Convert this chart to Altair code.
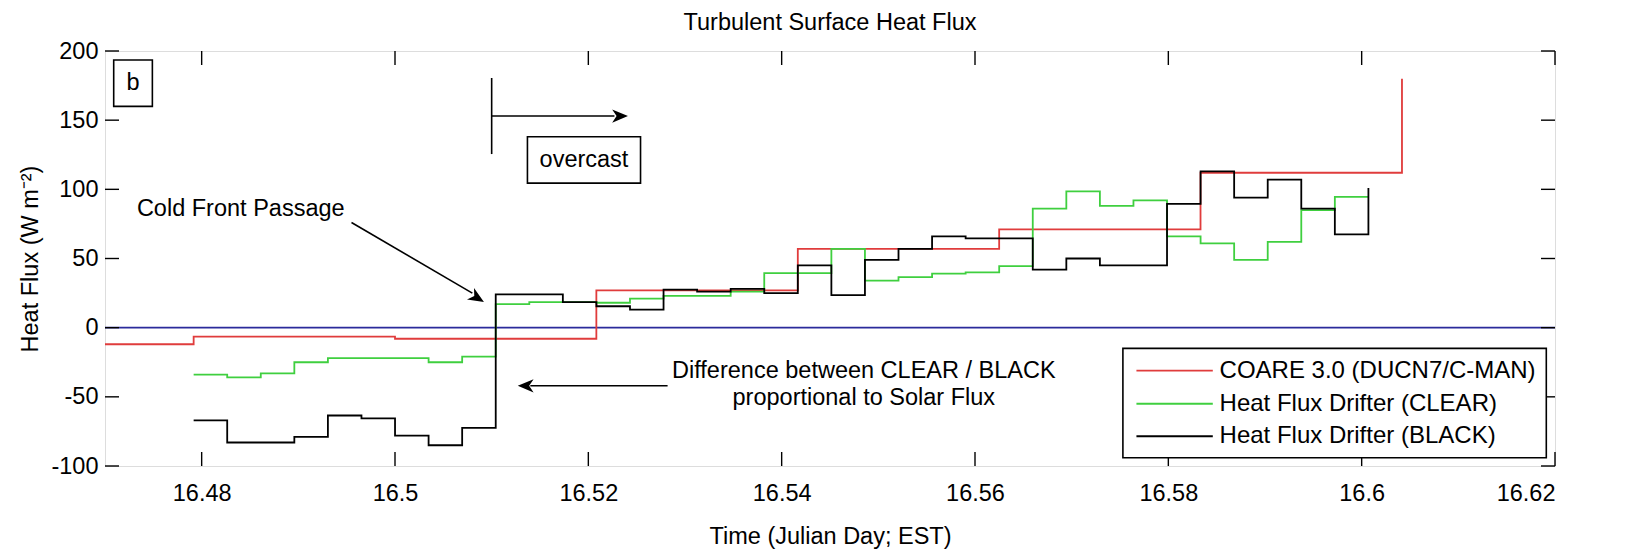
import altair as alt
import pandas as pd

# ---------------- data ----------------
X_DOMAIN = [16.47, 16.62]
Y_DOMAIN = [-100, 200]
x_ticks = [16.48, 16.5, 16.52, 16.54, 16.56, 16.58, 16.6, 16.62]
y_ticks = [-100, -50, 0, 50, 100, 150, 200]

series_names = ["COARE 3.0 (DUCN7/C-MAN)", "Heat Flux Drifter (CLEAR)", "Heat Flux Drifter (BLACK)"]
series_colors = ["#e03c3c", "#3fcf3f", "#000000"]

# COARE 3.0 half-hourly values (stairs)
coare_time = [16.47, 16.47917, 16.5, 16.52083, 16.54167, 16.5625, 16.58333, 16.60417]
coare_flux = [-12, -6.5, -8, 27, 57, 71, 112, 180]

# Drifter 5-minute values (stairs), start 16.47917 (11:30 EST)
drifter_start = 16.47917
drifter_step = 1.0 / 288.0
clear_flux = [-34, -36, -33, -25, -22, -22, -22, -25, -21,
              17, 18.5, 18.5, 18, 21, 23, 23, 26, 39.5, 39.5, 57,
              34, 36.5, 39, 40, 44.5, 86, 98.5, 88, 92, 66, 61, 49,
              62, 85, 94.5, 94.5]
black_flux = [-67, -83, -83, -79, -63.5, -65.5, -78, -85, -72.5,
              24, 24, 18.5, 15.5, 13, 27.5, 26, 28, 25, 45, 23.5,
              49, 57, 66, 64.5, 64.5, 42, 50, 45, 45, 89.5, 113, 94,
              107, 86, 67.5, 101]
drifter_time = [drifter_start + k * drifter_step for k in range(len(black_flux))]

# annotation positions (data units)
ann_text_x = [16.4729, 16.51955, 16.4733]
ann_text_y = [177, 121, 85.5]
ann_text = ["b", "overcast", "Cold Front Passage"]
ann_text_align = ["center", "center", "left"]

diff_text_x = [16.5485, 16.5485]
diff_text_y = [-31.5, -51]
diff_text = ["Difference between CLEAR / BLACK", "proportional to Solar Flux"]

box_x = [16.4709, 16.5137]
box_x2 = [16.4749, 16.5254]
box_y = [193.5, 138]
box_y2 = [160, 104.5]

seg_x = [16.5100, 16.5100, 16.4955, 16.5282]
seg_x2 = [16.5100, 16.5227, 16.5080, 16.5140]
seg_y = [180.5, 153, 76, -42]
seg_y2 = [125.5, 153, 25, -42]

head_x = [16.5241, 16.5092, 16.5127]
head_y = [153, 18.5, -42]
head_angle = [0, 31.8, 180]

# legend box (data units)
legend_box = {"x": 16.5753, "x2": 16.6191, "y": -15, "y2": -94}
legend_row_y = [-31, -55, -78.5]
legend_line_x = [16.5767, 16.5846]
legend_text_x = 16.5853

# ---------------- chart ----------------
W, H = 1450, 415
FONT = "Liberation Sans"
FS = 23.5

xs = alt.Scale(domain=X_DOMAIN, nice=False, zero=False)
ys = alt.Scale(domain=Y_DOMAIN, nice=False, zero=False)
cs = alt.Scale(domain=series_names, range=series_colors)

rows = []
for t, v in zip(coare_time, coare_flux):
    rows.append({"time": t, "flux": v, "series": series_names[0]})
for t, v in zip(drifter_time, clear_flux):
    rows.append({"time": t, "flux": v, "series": series_names[1]})
for t, v in zip(drifter_time, black_flux):
    rows.append({"time": t, "flux": v, "series": series_names[2]})
df = pd.DataFrame(rows)

x_axis = alt.Axis(values=x_ticks, format=".2~f", ticks=False, domain=False, grid=False,
                  labelFontSize=FS, labelPadding=15, title="Time (Julian Day; EST)",
                  titleFontSize=FS, titleFontWeight="normal", titlePadding=20,
                  labelFont=FONT, titleFont=FONT, labelColor="black", titleColor="black")
y_axis = alt.Axis(values=y_ticks, labelExpr="'' + datum.value", ticks=False, domain=False,
                  grid=False, labelFontSize=FS, labelPadding=7, title="Heat Flux (W m⁻²)",
                  titleFontSize=FS, titleFontWeight="normal", titlePadding=8,
                  labelFont=FONT, titleFont=FONT, labelColor="black", titleColor="black")

zero = alt.Chart(pd.DataFrame({"y": [0]})).mark_rule(color="#2b2b9b", strokeWidth=1.8).encode(
    y=alt.Y("y:Q", scale=ys, axis=y_axis)
)

lines = alt.Chart(df).mark_line(interpolate="step-after", strokeWidth=1.8, clip=True).encode(
    x=alt.X("time:Q", scale=xs, axis=x_axis),
    y=alt.Y("flux:Q", scale=ys, axis=y_axis),
    color=alt.Color("series:N", sort=series_names, scale=cs, legend=None),
)

TL = 14
tick_x_df = pd.DataFrame({"x": x_ticks})
tick_y_df = pd.DataFrame({"y": y_ticks})
ticks_bottom = alt.Chart(tick_x_df).mark_rule(color="black", strokeWidth=1.4).encode(
    x=alt.X("x:Q", scale=xs), y=alt.value(H), y2=alt.value(H - TL))
ticks_top = alt.Chart(tick_x_df).mark_rule(color="black", strokeWidth=1.4).encode(
    x=alt.X("x:Q", scale=xs), y=alt.value(0), y2=alt.value(TL))
ticks_left = alt.Chart(tick_y_df).mark_rule(color="black", strokeWidth=1.4).encode(
    y=alt.Y("y:Q", scale=ys), x=alt.value(0), x2=alt.value(TL))
ticks_right = alt.Chart(tick_y_df).mark_rule(color="black", strokeWidth=1.4).encode(
    y=alt.Y("y:Q", scale=ys), x=alt.value(W - TL), x2=alt.value(W))

boxes = alt.Chart(pd.DataFrame({"x": box_x, "x2": box_x2, "y": box_y, "y2": box_y2})).mark_rect(
    fill="white", fillOpacity=0, stroke="black", strokeWidth=1.6).encode(
    x=alt.X("x:Q", scale=xs), x2="x2:Q", y=alt.Y("y:Q", scale=ys), y2="y2:Q")

ann_df = pd.DataFrame({"x": ann_text_x, "y": ann_text_y, "t": ann_text, "a": ann_text_align})
ann_center = alt.Chart(ann_df[ann_df["a"] == "center"]).mark_text(
    fontSize=FS, font=FONT, color="black", align="center", baseline="middle").encode(
    x=alt.X("x:Q", scale=xs), y=alt.Y("y:Q", scale=ys), text="t:N")
ann_left = alt.Chart(ann_df[ann_df["a"] == "left"]).mark_text(
    fontSize=FS, font=FONT, color="black", align="left", baseline="middle").encode(
    x=alt.X("x:Q", scale=xs), y=alt.Y("y:Q", scale=ys), text="t:N")
diff_txt = alt.Chart(pd.DataFrame({"x": diff_text_x, "y": diff_text_y, "t": diff_text})).mark_text(
    fontSize=FS, font=FONT, color="black", align="center", baseline="middle").encode(
    x=alt.X("x:Q", scale=xs), y=alt.Y("y:Q", scale=ys), text="t:N")

segs = alt.Chart(pd.DataFrame({"x": seg_x, "x2": seg_x2, "y": seg_y, "y2": seg_y2})).mark_rule(
    color="black", strokeWidth=1.6).encode(
    x=alt.X("x:Q", scale=xs), x2="x2:Q", y=alt.Y("y:Q", scale=ys), y2="y2:Q")

ARROW = "M0,0L-1,-0.42L-0.72,0L-1,0.42Z"
heads = alt.Chart(pd.DataFrame({"x": head_x, "y": head_y, "ang": head_angle})).mark_point(
    shape=ARROW, filled=True, color="black", size=1000, opacity=1).encode(
    x=alt.X("x:Q", scale=xs), y=alt.Y("y:Q", scale=ys), angle=alt.Angle("ang:Q", scale=None))

# legend drawn through the same scales
leg_box = alt.Chart(pd.DataFrame([legend_box])).mark_rect(
    fill="white", stroke="black", strokeWidth=1.6).encode(
    x=alt.X("x:Q", scale=xs), x2="x2:Q", y=alt.Y("y:Q", scale=ys), y2="y2:Q")
leg_df = pd.DataFrame({"series": series_names, "y": legend_row_y,
                       "x": [legend_line_x[0]] * 3, "x2": [legend_line_x[1]] * 3,
                       "tx": [legend_text_x] * 3})
leg_lines = alt.Chart(leg_df).mark_rule(strokeWidth=1.8).encode(
    x=alt.X("x:Q", scale=xs), x2="x2:Q", y=alt.Y("y:Q", scale=ys),
    color=alt.Color("series:N", scale=cs, legend=None))
leg_text = alt.Chart(leg_df).mark_text(fontSize=24, font=FONT, color="black",
                                       align="left", baseline="middle").encode(
    x=alt.X("tx:Q", scale=xs), y=alt.Y("y:Q", scale=ys), text="series:N")

chart = alt.layer(
    zero, lines, ticks_bottom, ticks_top, ticks_left, ticks_right,
    boxes, ann_center, ann_left, diff_txt, segs, heads,
    leg_box, leg_lines, leg_text
).properties(
    width=W, height=H,
    title=alt.TitleParams("Turbulent Surface Heat Flux", fontSize=FS, font=FONT,
                          fontWeight="normal", color="black", anchor="middle", offset=5),
    autosize=alt.AutoSizeParams(type="none"),
    padding={"left": 97, "top": 43, "right": 76, "bottom": 83},
).configure_view(stroke="black", strokeWidth=1.6).configure(font=FONT, background="white")

chart.save("out.html", embed_options={"renderer": "svg", "actions": False})
